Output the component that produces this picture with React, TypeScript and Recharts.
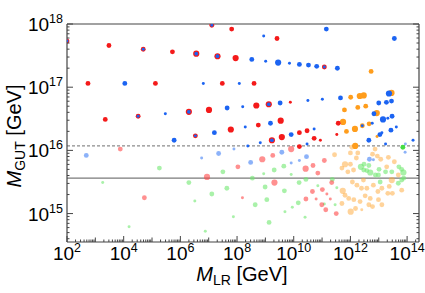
import React from "react";
import { ScatterChart, Scatter, XAxis, YAxis, ZAxis, ReferenceLine } from "recharts";

// points as [log10 M_LR, log10 M_GUT, size class 1..3]
const redPts = [
  [3.48, 17.66, 2], [5.72, 17.56, 2], [2.74, 17.06, 2], [5.12, 17.06, 2], [3.35, 16.49, 2],
  [7.81, 17.92, 2], [9.41, 17.77, 2], [7.95, 17.46, 3], [7.48, 17.06, 2], [8.6, 17.06, 2],
  [7.01, 16.64, 3], [8.68, 16.71, 3], [9.88, 16.76, 1], [7.78, 16.33, 3], [8.75, 16.4, 2],
  [9.54, 16.47, 3], [10.2, 16.28, 2], [10.47, 16.31, 2], [9.58, 16.21, 3], [11.57, 16.43, 2],
  [11.52, 16.25, 1], [10.72, 16.19, 2], [10.94, 16.16, 1], [10.2, 16.06, 2],
];

const redBluePts = [
  [2.0, 17.73, 2], [4.69, 17.6, 2], [6.56, 17.53, 3], [4.51, 16.54, 2], [6.3, 16.61, 3],
  [7.11, 17.98, 2], [7.31, 17.49, 3], [9.12, 16.73, 3], [11.08, 17.32, 2], [9.23, 16.16, 3],
  [6.53, 16.23, 2],
];

const bluePts = [
  [5.47, 16.58, 1], [8.94, 17.81, 1], [11.15, 17.92, 2], [13.55, 17.77, 2], [8.52, 17.44, 2],
  [9.01, 17.41, 1], [9.45, 17.39, 3], [9.85, 17.38, 1], [10.2, 17.36, 2], [10.52, 17.35, 2],
  [10.81, 17.33, 2], [11.54, 17.3, 2], [6.81, 17.06, 1], [4.04, 17.06, 2], [8.08, 17.06, 1],
  [7.65, 16.67, 2], [8.2, 16.69, 1], [9.52, 16.75, 2], [10.5, 16.79, 1], [11.01, 16.81, 1],
  [11.65, 16.83, 2], [13.36, 16.9, 3], [7.2, 16.28, 2], [8.29, 16.37, 1], [9.18, 16.43, 2],
  [10.72, 16.34, 1], [9.91, 16.25, 2], [8.82, 16.12, 1], [8.38, 16.07, 1], [10.47, 16.1, 1],
  [12.83, 16.58, 2], [13.0, 16.75, 2], [13.27, 16.76, 2], [13.45, 16.78, 2], [12.77, 16.43, 1],
  [13.15, 16.49, 3], [13.32, 16.51, 1], [13.47, 16.54, 2], [13.43, 16.32, 2], [13.62, 16.37, 1],
  [13.04, 16.25, 2], [12.65, 16.16, 2], [14.21, 16.16, 1], [13.24, 16.1, 1], [13.11, 16.28, 1],
  [5.78, 16.16, 2], [12.42, 16.39, 1],
];

const orangePts = [
  [12.73, 17.25, 2], [12.01, 16.84, 2], [12.33, 16.86, 3], [12.47, 16.87, 3], [13.45, 16.91, 3],
  [11.79, 16.64, 2], [12.26, 16.68, 2], [12.54, 16.7, 2], [12.93, 16.59, 3], [11.74, 16.45, 3],
  [11.86, 16.3, 2], [12.16, 16.34, 3], [12.66, 16.42, 2], [12.94, 16.22, 1], [12.17, 16.07, 3],
  [12.42, 16.39, 2],
];

const greenPts = [[13.85, 16.05, 2]];

const lightRedPts = [
  [3.88, 16.02, 2], [8.03, 15.74, 2], [6.94, 15.58, 3], [4.73, 15.25, 2], [8.89, 15.86, 3],
  [9.91, 16.02, 3], [10.42, 15.71, 3], [10.68, 15.76, 2], [10.85, 15.64, 2], [9.32, 15.49, 3],
  [10.66, 15.35, 2], [11.01, 15.38, 2], [11.17, 15.31, 1], [11.34, 15.49, 2], [8.19, 15.25, 1],
  [10.43, 15.23, 2], [10.79, 15.23, 1], [10.99, 15.14, 2], [11.13, 15.06, 2], [11.29, 15.23, 1],
  [11.5, 15.0, 2], [9.26, 15.92, 2], [11.08, 15.84, 2],
];

const lightBluePts = [
  [2.68, 15.92, 2], [6.75, 15.88, 1], [7.35, 15.95, 2], [7.89, 16.02, 1], [13.94, 16.1, 1],
  [9.58, 15.97, 2], [10.2, 15.84, 1], [9.91, 15.8, 1], [8.48, 15.81, 2], [10.45, 15.9, 2],
  [12.67, 15.86, 2], [12.81, 15.85, 1], [13.93, 15.97, 1],
];

const lightOrangePts = [
  [12.0, 15.96, 2], [12.26, 15.96, 2], [12.87, 16.02, 2], [12.78, 15.94, 2], [13.07, 15.86, 2],
  [11.81, 15.78, 3], [12.0, 15.78, 2], [13.28, 15.74, 2], [11.7, 15.72, 2], [11.91, 15.66, 2],
  [12.11, 15.69, 2], [11.44, 15.93, 2], [12.95, 15.91, 2], [13.34, 15.89, 2], [13.55, 15.82, 2],
  [12.21, 15.88, 2], [13.69, 15.61, 2], [11.73, 15.36, 3], [11.81, 15.29, 2], [12.07, 15.5, 2],
  [12.23, 15.45, 2], [12.46, 15.53, 2], [12.58, 15.4, 2], [12.81, 15.45, 2], [13.11, 15.4, 2],
  [13.37, 15.43, 2], [13.46, 15.53, 3], [13.48, 15.32, 2], [13.32, 15.32, 2], [13.81, 15.37, 2],
  [11.7, 15.16, 2], [12.01, 15.03, 3], [12.12, 15.22, 2], [12.34, 15.19, 2], [12.52, 15.28, 2],
  [12.7, 15.24, 2], [12.4, 15.06, 1], [12.78, 15.11, 2], [12.99, 15.22, 2], [13.11, 15.14, 2],
  [12.05, 16.05, 2], [12.97, 15.35, 2], [12.18, 15.08, 2], [12.65, 15.14, 2], [11.94, 15.24, 2],
  [12.39, 15.4, 2],
];

const lightGreenPts = [
  [5.26, 15.72, 2], [3.26, 15.49, 1], [6.3, 15.49, 2], [7.64, 15.4, 2], [7.11, 15.31, 2],
  [6.51, 15.2, 1], [7.87, 14.95, 1], [4.19, 14.79, 1], [6.88, 14.72, 1], [7.5, 15.66, 2],
  [9.31, 15.69, 2], [9.65, 15.75, 2], [8.94, 15.63, 1], [9.91, 15.62, 1], [8.54, 15.56, 2],
  [12.37, 15.74, 3], [12.58, 15.68, 2], [12.7, 15.65, 3], [13.01, 15.7, 2], [12.99, 15.61, 2],
  [13.46, 15.66, 2], [13.81, 15.7, 2], [13.87, 15.65, 3], [12.48, 15.78, 2], [8.99, 15.42, 2],
  [9.67, 15.36, 2], [10.19, 15.49, 2], [10.43, 15.54, 2], [10.85, 15.44, 1], [11.36, 15.54, 2],
  [11.52, 15.41, 1], [13.05, 15.5, 2], [13.69, 15.48, 2], [13.81, 15.53, 2], [9.05, 15.22, 2],
  [10.16, 15.17, 2], [11.08, 15.15, 1], [11.46, 15.14, 1], [8.64, 15.14, 2], [9.69, 15.03, 1],
  [9.95, 15.1, 1], [10.4, 14.94, 1], [9.13, 14.86, 2], [12.47, 15.69, 2], [12.88, 15.61, 2],
  [13.24, 15.66, 2], [13.71, 15.74, 2], [13.88, 15.56, 2], [12.65, 15.76, 2],
];

const xLabelExps = [2, 4, 6, 8, 10, 12, 14];
const yLabelExps = [15, 16, 17, 18];
const X_RANGE = [2, 14.42];
const Y_RANGE = [14.55, 18];
const dashedLevel = 16.07;
const solidLevel = 15.56;

const FONT = "'Liberation Sans', Arial, sans-serif";
const FRAME = "#444";

const toData = (pts: number[][]) => pts.map(([lx, ly, z]) => ({ x: 10 ** lx, y: 10 ** ly, z }));

function logTicks(lo: number, hi: number) {
  const out: number[] = [];
  for (let n = Math.floor(lo); n <= Math.ceil(hi); n++) {
    for (let k = 1; k <= 9; k++) {
      const v = k * 10 ** n;
      const lv = Math.log10(v);
      if (lv >= lo - 1e-9 && lv <= hi + 1e-9) out.push(v);
    }
  }
  return out;
}

const xTicks = logTicks(X_RANGE[0], X_RANGE[1]);
const yTicks = logTicks(Y_RANGE[0], Y_RANGE[1]);

function Pow({ x, y, n, anchor }: any) {
  return (
    <text x={x} y={y} textAnchor={anchor} fontFamily={FONT} fontSize={19} fill="#000">
      <tspan>10</tspan>
      <tspan dy={-8} fontSize={12.5}>{n}</tspan>
    </text>
  );
}

function makeTick(side: string, labels: number[]) {
  return (props: any) => {
    const { x, y, payload } = props;
    const lv = Math.log10(payload.value);
    const n = Math.round(lv);
    const decade = Math.abs(lv - n) < 1e-6;
    const labeled = decade && labels.includes(n);
    const len = labeled ? 6 : decade ? 4.5 : 2.5;
    let line;
    let label = null;
    if (side === "bottom") {
      line = <line x1={x} y1={y} x2={x} y2={y - len} stroke={FRAME} />;
      if (labeled) label = <Pow x={x} y={y + 18} n={n} anchor="middle" />;
    } else if (side === "top") {
      line = <line x1={x} y1={y} x2={x} y2={y + len} stroke={FRAME} />;
    } else if (side === "left") {
      line = <line x1={x} y1={y} x2={x + len} y2={y} stroke={FRAME} />;
      if (labeled) label = <Pow x={x - 4} y={y + 7} n={n} anchor="end" />;
    } else {
      line = <line x1={x} y1={y} x2={x - len} y2={y} stroke={FRAME} />;
    }
    return (
      <g>
        {line}
        {label}
      </g>
    );
  };
}

const radius = (p: any) => {
  if (p.size) return Math.sqrt(p.size / Math.PI);
  return [1.5, 2.4, 3][(p.payload?.z ?? 2) - 1];
};

const dot = (fill: string, opacity = 1) => (p: any) => (
  <circle cx={p.cx} cy={p.cy} r={radius(p)} fill={fill} fillOpacity={opacity} />
);

const comboDot = (p: any) => {
  const r = radius(p);
  return (
    <g>
      <circle cx={p.cx} cy={p.cy} r={r} fill="#f41a1a" />
      <circle cx={p.cx} cy={p.cy} r={r * 0.6} fill="#1c64f2" />
    </g>
  );
};

export default function App() {
  const xDomain = [10 ** X_RANGE[0], 10 ** X_RANGE[1]];
  const yDomain = [10 ** Y_RANGE[0], 10 ** Y_RANGE[1]];
  const axisLine = { stroke: FRAME, strokeWidth: 1.2 };
  return (
    <div style={{ position: "absolute", left: 0, top: 0, width: 425, height: 293, background: "#fff" }}>
      <ScatterChart width={425} height={293} margin={{ top: 0, right: 0, bottom: 0, left: 0 }}>
        <XAxis dataKey="x" type="number" scale="log" domain={xDomain} allowDataOverflow ticks={xTicks}
          interval={0} tickSize={0} tickMargin={0} height={51} axisLine={axisLine}
          tick={makeTick("bottom", xLabelExps)} />
        <XAxis xAxisId="t" orientation="top" type="number" scale="log" domain={xDomain} allowDataOverflow
          ticks={xTicks} interval={0} tickSize={0} tickMargin={0} height={24} axisLine={axisLine}
          tick={makeTick("top", xLabelExps)} />
        <YAxis dataKey="y" type="number" scale="log" domain={yDomain} allowDataOverflow ticks={yTicks}
          interval={0} tickSize={0} tickMargin={0} width={67} axisLine={axisLine}
          tick={makeTick("left", yLabelExps)} />
        <YAxis yAxisId="r" orientation="right" type="number" scale="log" domain={yDomain} allowDataOverflow
          ticks={yTicks} interval={0} tickSize={0} tickMargin={0} width={6} axisLine={axisLine}
          tick={makeTick("right", yLabelExps)} />
        <ZAxis dataKey="z" type="number" domain={[1, 3]} range={[7, 30]} />
        <ReferenceLine y={10 ** dashedLevel} stroke="#8c8c8c" strokeWidth={1.2} strokeDasharray="3 2" />
        <ReferenceLine y={10 ** solidLevel} stroke="#7a7a7a" strokeWidth={1.2} />
        <Scatter data={toData(lightGreenPts)} shape={dot("#6fe86f", 0.6)} isAnimationActive={false} />
        <Scatter data={toData(lightOrangePts)} shape={dot("#ffa836", 0.5)} isAnimationActive={false} />
        <Scatter data={toData(lightRedPts)} shape={dot("#ff4040", 0.58)} isAnimationActive={false} />
        <Scatter data={toData(lightBluePts)} shape={dot("#3f7ff5", 0.6)} isAnimationActive={false} />
        <Scatter data={toData(greenPts)} shape={dot("#45dd45")} isAnimationActive={false} />
        <Scatter data={toData(orangePts)} shape={dot("#ff9d1c")} isAnimationActive={false} />
        <Scatter data={toData(bluePts)} shape={dot("#1c64f2")} isAnimationActive={false} />
        <Scatter data={toData(redPts)} shape={dot("#f41a1a")} isAnimationActive={false} />
        <Scatter data={toData(redBluePts)} shape={comboDot} isAnimationActive={false} />
      </ScatterChart>
      <div style={{ position: "absolute", left: 242, top: 264, transform: "translateX(-50%)", fontFamily: FONT,
        fontSize: 20, lineHeight: "20px", whiteSpace: "nowrap", color: "#000" }}>
        <i>M</i>
        <span style={{ fontSize: 14, position: "relative", top: 4 }}>LR</span> [GeV]
      </div>
      <div style={{ position: "absolute", left: 15, top: 136, transform: "translate(-50%,-50%) rotate(-90deg)",
        fontFamily: FONT, fontSize: 20, lineHeight: "20px", whiteSpace: "nowrap", color: "#000" }}>
        <i>M</i>
        <span style={{ fontSize: 14, position: "relative", top: 4 }}>GUT</span> [GeV]
      </div>
    </div>
  );
}
